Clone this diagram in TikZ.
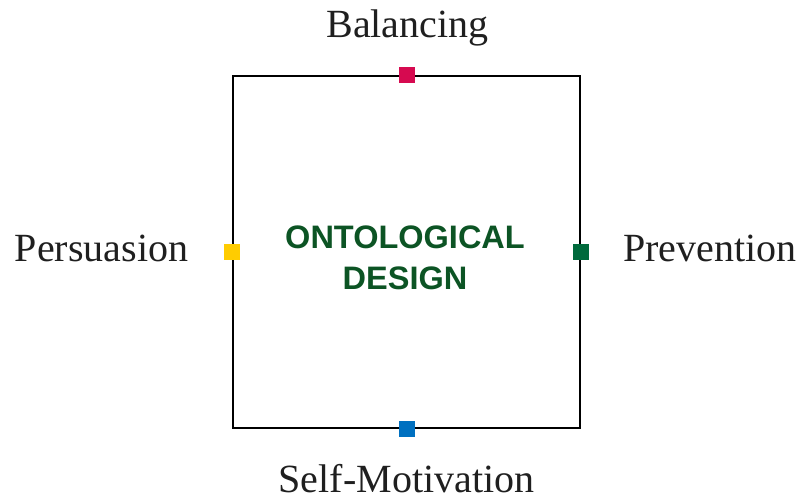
\documentclass[tikz,border=0pt]{standalone}
\usepackage{fontspec}
\setmainfont{Liberation Serif}
\newfontfamily\boxsans{Liberation Sans}
\definecolor{topc}{RGB}{214,10,80}
\definecolor{leftc}{RGB}{255,204,0}
\definecolor{rightc}{RGB}{0,106,60}
\definecolor{botc}{RGB}{0,112,192}
\definecolor{titlec}{RGB}{12,84,36}
\begin{document}
\begin{tikzpicture}[x=1pt,y=-1pt,
  marker/.style={rectangle,minimum size=16pt,inner sep=0pt},
  lab/.style={font=\fontsize{40}{40}\selectfont,text=black!88,inner sep=0pt,anchor=base}]
\useasboundingbox (0,0) rectangle (805,502);
\node[draw=black,line width=1.4pt,minimum width=347pt,minimum height=352pt,inner sep=0pt] (box) at (406.5,252) {};
\node[lab] (bal) at (407.5,38) {Balancing};
\node[lab] (per) at (101.5,262) {Persuasion};
\node[lab] (pre) at (710,262) {Prevention};
\node[lab] (sel) at (406.5,492) {Self-Motivation};
\node[align=center,font=\boxsans\bfseries\fontsize{32.5}{41}\selectfont,text=titlec] (title) at (405,258) {ONTOLOGICAL\\DESIGN};
\node[marker,fill=topc] (mt) at (box.north) {};
\node[marker,fill=leftc] (ml) at (box.west) {};
\node[marker,fill=rightc] (mr) at (box.east) {};
\node[marker,fill=botc] (mb) at (box.south) {};
\end{tikzpicture}
\end{document}
